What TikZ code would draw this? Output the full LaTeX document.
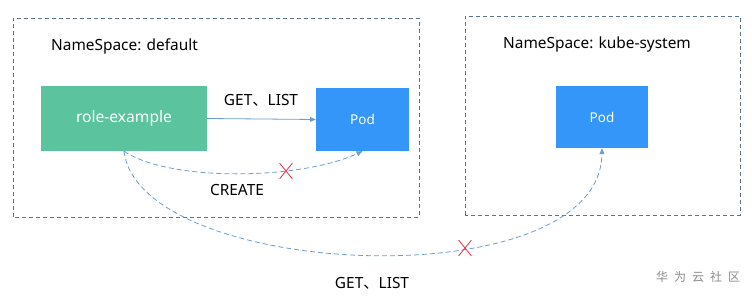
\documentclass[tikz,border=0pt]{standalone}
\usepackage{fontspec}
\setmainfont{Noto Sans}
\newfontfamily\cjk{Noto Sans CJK SC}
\usetikzlibrary{arrows.meta,shapes.misc}
\definecolor{nsline}{HTML}{5D7386}
\definecolor{rolegreen}{HTML}{5BC49F}
\definecolor{podblue}{HTML}{3596FA}
\definecolor{arr}{HTML}{6C9DCB}
\definecolor{xred}{HTML}{E0303F}
\definecolor{wm}{HTML}{8A8A8A}
\tikzset{
  nsbox/.style={draw=nsline, dashed, line width=0.8pt, dash pattern=on 4pt off 3pt},
  rolebox/.style={fill=rolegreen, text=white, inner sep=0pt, font=\fontsize{15.6}{18}\selectfont},
  podbox/.style={fill=podblue, text=white, inner sep=0pt, font=\fontsize{13.5}{16}\selectfont},
  conn/.style={draw=arr, line width=0.8pt, -{Triangle[length=6pt,width=5pt]}},
  dconn/.style={conn, dash pattern=on 5pt off 3pt},
  lbl/.style={font=\fontsize{15.4}{18}\selectfont, text=black, inner sep=0pt},
  xmark/.style={cross out, draw=xred, line width=0.8pt, minimum width=12pt, minimum height=15pt, inner sep=0pt},
}
\begin{document}
\begin{tikzpicture}[x=1pt,y=1pt]
\useasboundingbox (0,0) rectangle (752,300);
% namespace boxes
\draw[nsbox] (13,83) rectangle (419,282);
\draw[nsbox] (465,85) rectangle (740,284);
\node[lbl, anchor=west] (nsdef) at (51,254) {NameSpace: default};
\node[lbl, anchor=west] (nskube) at (503,256) {NameSpace: kube-system};
% nodes
\node[rolebox, minimum width=166pt, minimum height=65pt] (role) at (124,181.5) {role-example};
\node[podbox, minimum width=93pt, minimum height=63pt] (pod1) at (362.5,180.5) {Pod};
\node[podbox, minimum width=92pt, minimum height=62pt] (pod2) at (602,183) {Pod};
% connectors
\draw[conn] (role.east) -- (pod1.west);
\node[lbl] (getlist1) at (261,200) {GET{\cjk 、}LIST};
\draw[dconn] (role.south) .. controls (170,118) and (300,120) .. (pod1.south);
\node[xmark] (x1) at (286,129) {};
\node[lbl] (create) at (237,110) {CREATE};
\draw[dconn] (role.south) .. controls (140,20) and (600,0) .. (pod2.south);
\node[xmark] (x2) at (465,52) {};
\node[lbl] (getlist2) at (372,17) {GET{\cjk 、}LIST};
\node[font=\cjk\fontsize{12}{14}\selectfont, text=wm, inner sep=0pt] (wmk) at (698,23) {华\hspace{6pt}为\hspace{6pt}云\hspace{6pt}社\hspace{6pt}区};
\end{tikzpicture}
\end{document}
